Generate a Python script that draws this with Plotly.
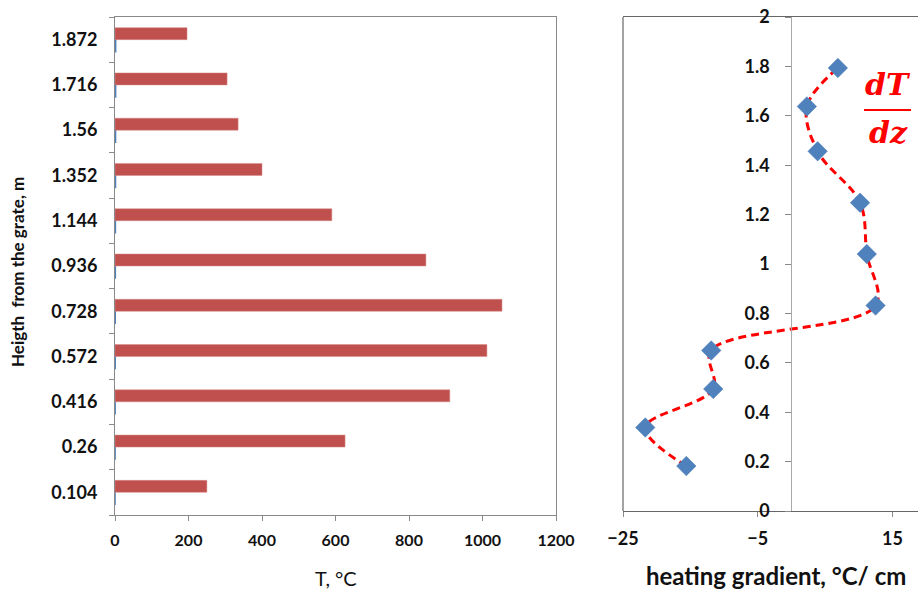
import plotly.graph_objects as go

# ---- data ----
heights = ["0.104", "0.26", "0.416", "0.572", "0.728", "0.936", "1.144", "1.352", "1.56", "1.716", "1.872"]
height_vals = [0.104, 0.26, 0.416, 0.572, 0.728, 0.936, 1.144, 1.352, 1.56, 1.716, 1.872]
temperature = [250, 626, 911, 1012, 1053, 846, 590, 400, 335, 305, 196]

grad_height = [0.182, 0.338, 0.494, 0.65, 0.832, 1.04, 1.248, 1.456, 1.638, 1.794]
gradient = [-15.6, -21.7, -11.6, -11.9, 12.5, 11.2, 10.2, 3.9, 2.3, 6.9]

x_ticks_left = [0, 200, 400, 600, 800, 1000, 1200]
x_ticks_right = [-25, -5, 15]
y_ticks_right = [0, 0.2, 0.4, 0.6, 0.8, 1, 1.2, 1.4, 1.6, 1.8, 2]

W, H = 918, 592
FONT = "Lato"
AX = "#898989"

left_dom = [115 / W, 556 / W]
left_ydom = [77 / H, 575 / H]
right_dom = [623 / W, 1.0]
right_ydom = [81 / H, 575 / H]
xr2 = [-25, 18.8]
zero_pos = right_dom[0] + (0 - xr2[0]) / (xr2[1] - xr2[0]) * (right_dom[1] - right_dom[0])

tf = lambda s: dict(size=s, family=FONT, color="#111", weight="bold")

fig = go.Figure()
fig.add_trace(go.Bar(y=heights, x=height_vals, orientation="h",
                     marker=dict(color="#4F81BD", line=dict(color="#4F81BD", width=1.5)),
                     xaxis="x", yaxis="y", showlegend=False))
fig.add_trace(go.Bar(y=heights, x=temperature, orientation="h",
                     marker=dict(color="#C0504D", line=dict(color="#D58A88", width=0.5)),
                     xaxis="x", yaxis="y", showlegend=False))
fig.add_trace(go.Scatter(x=gradient, y=grad_height, mode="lines+markers",
                         line=dict(color="#FF0000", width=3, dash="8px,5px", shape="spline", smoothing=1),
                         marker=dict(symbol="diamond", size=15, color="#4F81BD",
                                     line=dict(color="#4A7AB5", width=0.5)),
                         xaxis="x2", yaxis="y2", showlegend=False))

fig.update_layout(
    width=W, height=H, autosize=False, margin=dict(l=0, r=0, t=0, b=0, pad=0, autoexpand=False),
    paper_bgcolor="white", plot_bgcolor="white", showlegend=False,
    barmode="group", bargap=0.47, bargroupgap=0,
    font=dict(family=FONT, color="#111111"),
    xaxis=dict(domain=left_dom, anchor="y", range=[0, 1200], tickvals=x_ticks_left,
               showline=True, mirror=True, linecolor=AX, linewidth=1, automargin=False,
               ticks="outside", ticklen=5, tickcolor=AX, showgrid=False, zeroline=False,
               tickfont=tf(16), ticklabelstandoff=6),
    yaxis=dict(domain=left_ydom, anchor="x", type="category", categoryorder="array",
               categoryarray=heights, showline=True, mirror=True, linecolor=AX, linewidth=1,
               ticks="outside", ticklen=5, tickcolor=AX, tickson="boundaries", automargin=False,
               showgrid=False, zeroline=False, tickfont=tf(18), ticklabelstandoff=13),
    xaxis2=dict(domain=right_dom, anchor="y2", range=xr2, tickvals=x_ticks_right,
                showline=True, mirror=True, linecolor="#666666", linewidth=1.2, automargin=False,
                ticks="outside", ticklen=5, tickcolor=AX, showgrid=False, zeroline=False,
                tickfont=tf(18), ticklabelstandoff=6),
    yaxis2=dict(domain=right_ydom, anchor="free", position=zero_pos, range=[0, 2],
                tickvals=y_ticks_right, ticktext=[f"{v:g}" for v in y_ticks_right],
                showline=True, linecolor="#AAAAAA", linewidth=1, automargin=False,
                ticks="outside", ticklen=6, tickcolor=AX, showgrid=False, zeroline=False,
                tickfont=tf(18), ticklabelstandoff=12),
)

fig.add_shape(type="line", xref="x2 domain", yref="y2 domain", x0=0, x1=0, y0=0, y1=1,
              line=dict(color="#666666", width=1.2))

ann = dict(xref="paper", yref="paper", showarrow=False, xanchor="center", yanchor="middle")

# axis titles
fig.add_annotation(text="T, °C", x=(left_dom[0] + left_dom[1]) / 2, y=(592 - 578) / H,
                   font=dict(size=20, family=FONT, color="#111"), **ann)
fig.add_annotation(text="<b>Heigth  from the grate, m</b>", x=17 / W,
                   y=(592 - 272) / H, textangle=-90,
                   font=dict(size=17, family=FONT, color="#111"), **ann)
fig.add_annotation(text="<b>heating gradient, °C/ cm</b>", x=776 / W,
                   y=(592 - 575) / H, font=dict(size=24, family=FONT, color="#111"), **ann)

# dT/dz label
fig.add_annotation(text="<b><i>dT</i></b>", x=888 / W, y=(592 - 84) / H,
                   font=dict(size=30, family="DejaVu Serif", color="#FF0000"), **ann)
fig.add_annotation(text="<b><i>dz</i></b>", x=888 / W, y=(592 - 132) / H,
                   font=dict(size=30, family="DejaVu Serif", color="#FF0000"), **ann)
fig.add_shape(type="line", xref="paper", yref="paper", x0=864 / W, x1=911 / W,
              y0=(592 - 110) / H, y1=(592 - 110) / H, line=dict(color="#FF0000", width=2))

fig.write_html("out.html")
